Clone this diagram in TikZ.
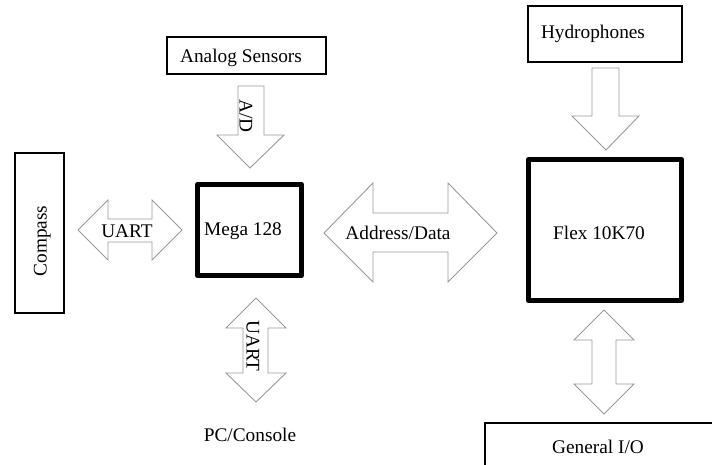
\documentclass[tikz,border=0pt]{standalone}
\usepackage{fontspec}
\setmainfont{Liberation Serif}
\begin{document}
\begin{tikzpicture}[x=1pt,y=-1pt,
  lbl/.style={font=\fontsize{19.3}{22}\selectfont, inner sep=0pt, text height=13pt, text depth=0pt},
  thinbox/.style={draw=black, line width=1.3pt},
  thickbox/.style={draw=black, line width=5pt, line join=round},
  blockarrow/.style={draw=black!40, line width=0.9pt, fill=white, line join=miter}]
\clip (0,0) rectangle (712,465);
\fill[white] (0,0) rectangle (712,465);

% boxes
\draw[thinbox] (167,37) rectangle (326,74) coordinate (analogbox);
\draw[thinbox] (15,153) rectangle (64,313);
\draw[thinbox] (528,6) rectangle (682,62);
\draw[thinbox] (485,423) rectangle (730,480);
\draw[thickbox] (197.5,184.5) rectangle (301.5,275.5);
\draw[thickbox] (528.5,159.5) rectangle (681.5,300.5);

% block arrows
\draw[blockarrow] (238,86) -- (264,86) -- (264,135) -- (284,135) -- (250,168) -- (217,135) -- (238,135) -- cycle;
\draw[blockarrow] (592,68) -- (619,68) -- (619,116) -- (639,116) -- (606,150) -- (572,116) -- (592,116) -- cycle;
\draw[blockarrow] (78,230) -- (108,200) -- (108,219) -- (152,219) -- (152,200) -- (182,230) -- (152,260) -- (152,242) -- (108,242) -- (108,260) -- cycle;
\draw[blockarrow] (324,233) -- (373,183) -- (373,213) -- (448,213) -- (448,183) -- (497,233) -- (448,282) -- (448,252) -- (373,252) -- (373,282) -- cycle;
\draw[blockarrow] (256,298) -- (286,328) -- (268,328) -- (268,373) -- (286,373) -- (256,402) -- (226,373) -- (243,373) -- (243,328) -- (226,328) -- cycle;
\draw[blockarrow] (604,310) -- (634,340) -- (616,340) -- (616,384) -- (634,384) -- (604,414) -- (574,384) -- (592,384) -- (592,340) -- (574,340) -- cycle;

% labels
\node[lbl] (analog) at (241,56) {Analog Sensors};
\node[lbl, rotate=-90] (ad) at (246,116) {A/D};
\node[lbl] (mega) at (243,229) {Mega 128};
\node[lbl] (uart1) at (127,231) {UART};
\node[lbl, rotate=90] (compass) at (40,241) {Compass};
\node[lbl, rotate=-90] (uart2) at (253,346) {UART};
\node[lbl] (pc) at (250,435) {PC/Console};
\node[lbl] (addr) at (398,233) {Address/Data};
\node[lbl] (hydro) at (593,32) {Hydrophones};
\node[lbl] (flex) at (599,233) {Flex 10K70};
\node[lbl] (gio) at (598,447) {General I/O};
\end{tikzpicture}
\end{document}
